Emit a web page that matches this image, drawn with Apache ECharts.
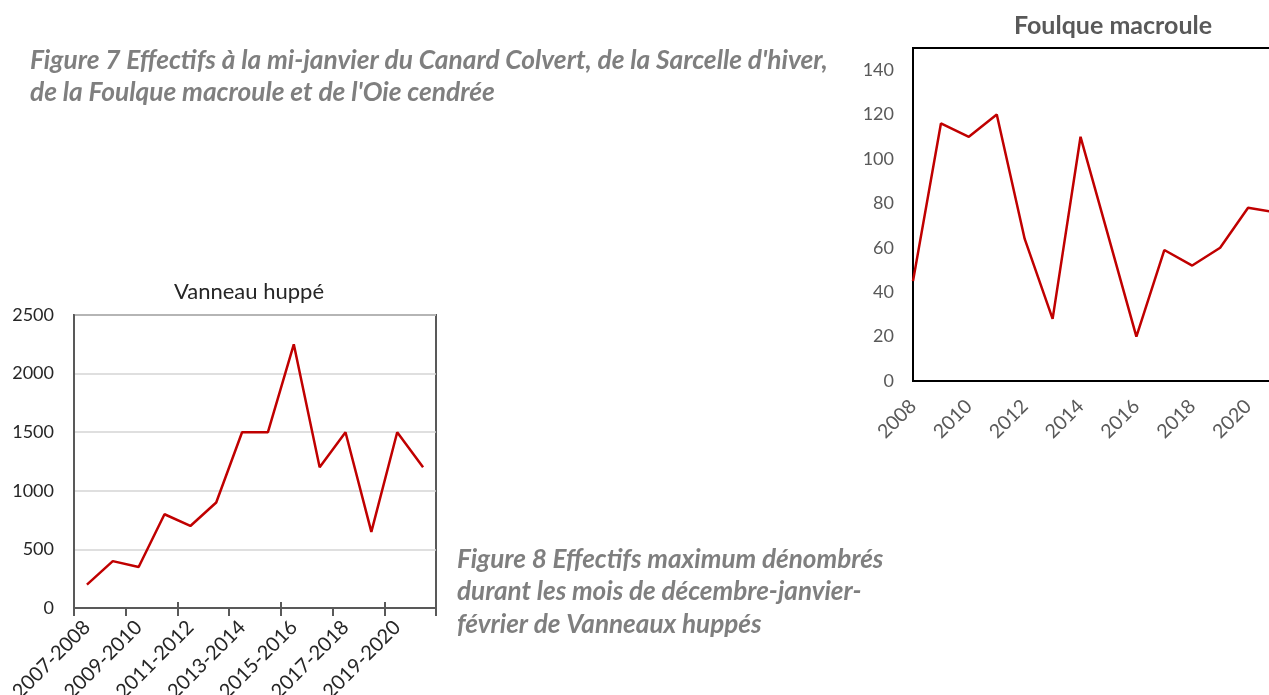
<!DOCTYPE html>
<html>
<head>
<meta charset="utf-8">
<script src="https://cdn.jsdelivr.net/npm/echarts@6/dist/echarts.min.js"></script>
<style>
    html, body { margin: 0; padding: 0; background: #fff; }
    #main { width: 1269px; height: 695px; }
</style>
</head>
<body>
<div id="main"></div>
<script>
// Vanneau huppé : effectifs max déc-janv-févr
var vanneauSeasons = ['2007-2008', '2008-2009', '2009-2010', '2010-2011', '2011-2012', '2012-2013', '2013-2014',
    '2014-2015', '2015-2016', '2016-2017', '2017-2018', '2018-2019', '2019-2020', '2020-2021'];
var vanneauValues = [200, 400, 350, 800, 700, 900, 1500, 1500, 2250, 1200, 1500, 650, 1500, 1200];

// Foulque macroule : effectifs mi-janvier
var foulqueYears = ['2008', '2009', '2010', '2011', '2012', '2013', '2014',
    '2015', '2016', '2017', '2018', '2019', '2020', '2021'];
var foulqueValues = [45, 116, 110, 120, 64, 28, 110, 65, 20, 59, 52, 60, 78, 76];

var caption7 = "Figure 7 Effectifs à la mi-janvier du Canard Colvert, de la Sarcelle d'hiver,\nde la Foulque macroule et de l'Oie cendrée";
var caption8 = 'Figure 8 Effectifs maximum dénombrés\ndurant les mois de décembre-janvier-\nfévrier de Vanneaux huppés';

var font = 'Lato, "Open Sans", sans-serif';
var red = '#c00000';

var myChart = echarts.init(document.getElementById('main'));

//pas de séparateur de milliers
function plainNumber(v) {
    return String(v);
}

var option = {
    animation: false,
    textStyle: { fontFamily: font },
    title: [
        {
            text: caption7,
            left: 30, top: 45, padding: 0,
            textStyle: { fontFamily: font, fontSize: 26.3, fontWeight: 'bold', fontStyle: 'italic', color: '#7f7f7f', lineHeight: 32 }
        },
        {
            text: caption8,
            left: 457, top: 543, padding: 0,
            textStyle: { fontFamily: font, fontSize: 26.1, fontWeight: 'bold', fontStyle: 'italic', color: '#7f7f7f', lineHeight: 32.5 }
        },
        {
            text: 'Vanneau huppé',
            left: 249, top: 281, padding: 0, textAlign: 'center',
            textStyle: { fontFamily: font, fontSize: 22, fontWeight: 'normal', color: '#262626' }
        },
        {
            text: 'Foulque macroule',
            left: 1113, top: 13, padding: 0, textAlign: 'center',
            textStyle: { fontFamily: font, fontSize: 25, fontWeight: 'bold', color: '#595959' }
        }
    ],
    grid: [
        //Vanneau
        { left: 74, top: 315, width: 362, height: 293, show: true, borderColor: '#595959', borderWidth: 2,
            containLabel: false, outerBoundsMode: 'none' },
        //Foulque, le cadre sort à droite de l'image
        { left: 913, top: 48, width: 363, height: 333, show: true, borderColor: '#000', borderWidth: 2,
            containLabel: false, outerBoundsMode: 'none' }
    ],
    xAxis: [
        {
            gridIndex: 0,
            type: 'category',
            position: 'bottom',
            boundaryGap: true,
            data: vanneauSeasons,
            axisLine: { show: true, lineStyle: { color: '#595959', width: 2 } },
            axisTick: { show: true, length: 8, lineStyle: { color: '#595959', width: 2 } },
            axisLabel: { interval: 1, rotate: 45, margin: 16, fontSize: 20, color: '#262626', fontFamily: font },
            splitLine: { show: false }
        },
        {
            // ticks croisés vers l'intérieur
            gridIndex: 0,
            type: 'category',
            position: 'bottom',
            boundaryGap: true,
            data: vanneauSeasons,
            axisLine: { show: false },
            axisTick: { show: true, inside: true, length: 6, lineStyle: { color: '#595959', width: 2 } },
            axisLabel: { show: false },
            splitLine: { show: false }
        },
        {
            gridIndex: 1,
            type: 'category',
            boundaryGap: false,
            data: foulqueYears,
            axisLine: { show: true, lineStyle: { color: '#000', width: 2 } },
            axisTick: { show: false },
            axisLabel: { interval: 1, rotate: 45, margin: 22, fontSize: 19.5, color: '#595959', fontFamily: font },
            splitLine: { show: false }
        }
    ],
    yAxis: [
        {
            gridIndex: 0,
            type: 'value',
            min: 0, max: 2500, interval: 500,
            axisLine: { show: true, lineStyle: { color: '#595959', width: 2 } },
            axisTick: { show: false },
            axisLabel: { margin: 20, fontSize: 18, color: '#262626', fontFamily: font, formatter: plainNumber },
            splitLine: { show: true, lineStyle: { color: '#d4d4d4', width: 1.5 } }
        },
        {
            gridIndex: 1,
            type: 'value',
            min: 0, max: 150, interval: 20,
            axisLine: { show: true, lineStyle: { color: '#000', width: 2 } },
            axisTick: { show: false },
            axisLabel: { margin: 19, fontSize: 18, color: '#595959', fontFamily: font, showMaxLabel: false },
            splitLine: { show: false }
        }
    ],
    series: [
        {
            name: 'Vanneau huppé',
            type: 'line',
            xAxisIndex: 0, yAxisIndex: 0,
            data: vanneauValues,
            symbol: 'none',
            lineStyle: { color: red, width: 2.5 },
            itemStyle: { color: red }
        },
        {
            name: 'Foulque macroule',
            type: 'line',
            xAxisIndex: 2, yAxisIndex: 1,
            data: foulqueValues,
            symbol: 'none',
            lineStyle: { color: red, width: 2.5 },
            itemStyle: { color: red }
        }
    ]
};

myChart.setOption(option);
</script>
</body>
</html>
